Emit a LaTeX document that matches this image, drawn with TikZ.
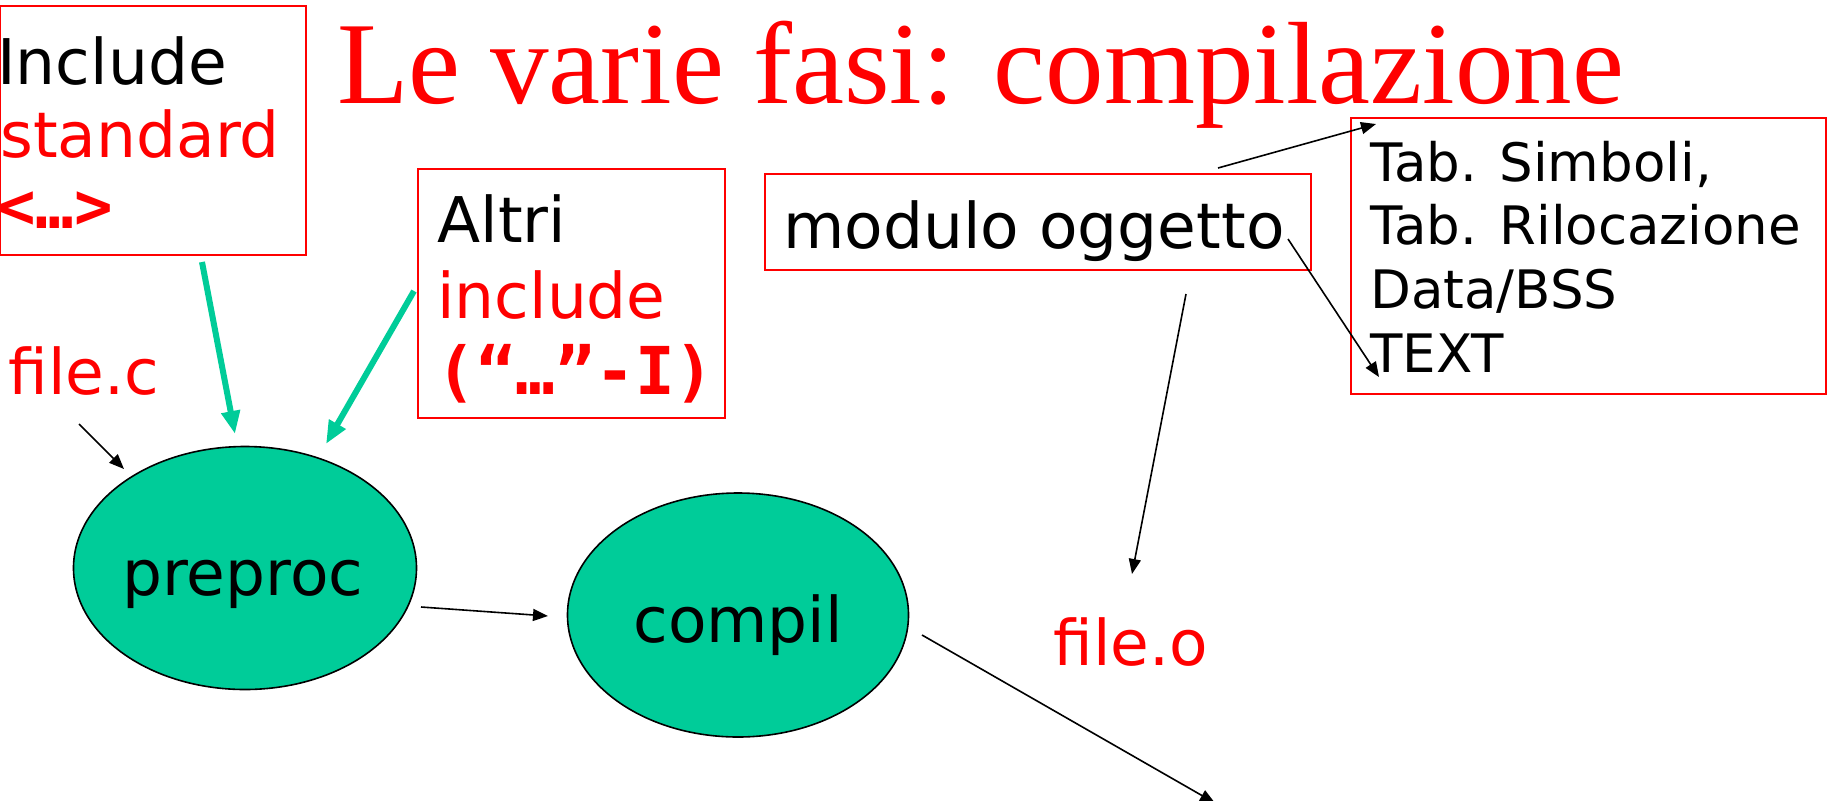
\documentclass[tikz,border=0pt]{standalone}
\usepackage{fontspec}
\setmainfont{DejaVu Sans}
\newfontfamily\titlefont{Liberation Serif}
\newfontfamily\codefont{DejaVu Sans Mono}
\usetikzlibrary{arrows.meta,shapes.geometric}
\definecolor{procgreen}{RGB}{0,204,153}

\begin{document}
\begin{tikzpicture}[x=0.5pt,y=-0.5pt,
  txt/.style={anchor=base west, inner sep=0pt, font=\fontsize{31.5pt}{37pt}\selectfont},
  smalltxt/.style={anchor=base west, inner sep=0pt, font=\fontsize{26.5pt}{31pt}\selectfont},
  codetxt/.style={anchor=base west, inner sep=0pt, text=red, font=\codefont\bfseries\fontsize{33pt}{37pt}\selectfont},
  redbox/.style={draw=red, line width=1pt, anchor=north west, inner sep=0pt},
  phase/.style={ellipse, draw=black, line width=0.8pt, fill=procgreen, inner sep=0pt},
  flow/.style={draw=black, line width=0.8pt, -{Triangle[length=7.5pt,width=6pt]}},
  incflow/.style={draw=procgreen, line width=3pt, -{Triangle[length=11.5pt,width=9pt]}}
]
\useasboundingbox (0,0) rectangle (1828,800);

% title
\node[anchor=base west, inner sep=0pt, text=red,
      font=\titlefont\fontsize{58.5pt}{60pt}\selectfont] (title) at (337,103) {Le varie fasi: compilazione};

% standard includes
\node[redbox, minimum width=153pt, minimum height=124.5pt] (stdbox) at (-1,5) {};
\node[txt] (stdA) at (-3,84) {Include};
\node[txt, text=red] (stdB) at (0,157) {standard};
\node[codetxt, font=\codefont\bfseries\fontsize{32pt}{37pt}\selectfont] (stdC) at (-3,228) {<…>};

% other includes
\node[redbox, minimum width=153.5pt, minimum height=124.5pt] (othbox) at (417,168) {};
\node[txt] (othA) at (437,242) {Altri};
\node[txt, text=red] (othB) at (437,318) {include};
\node[codetxt] (othC) at (436,394) {(“…”-I)};

% object module
\node[redbox, minimum width=273pt, minimum height=48pt] (objbox) at (764,173) {};
\node[txt] (objtxt) at (783,248) {modulo oggetto};

% object module contents
\node[redbox, minimum width=237.5pt, minimum height=138pt] (tabbox) at (1350,117) {};
\node[smalltxt] (tabA) at (1370,181) {Tab. Simboli,};
\node[smalltxt] (tabB) at (1370,244) {Tab. Rilocazione};
\node[smalltxt] (tabC) at (1370,308) {Data/BSS};
\node[smalltxt] (tabD) at (1370,372) {TEXT};

% files
\node[txt, text=red] (filec) at (8,394) {file.c};
\node[txt, text=red] (fileo) at (1053,665) {file.o};

% phases
\node[phase, minimum width=171.5pt, minimum height=121.5pt] (pre) at (245,568) {};
\node[txt] (pretxt) at (122,595) {preproc};
\node[phase, minimum width=170.5pt, minimum height=122pt] (comp) at (738,615) {};
\node[txt] (comptxt) at (633,642) {compil};

% connector end points
\coordinate (cS) at (79,424);   \coordinate (cE) at (124,469);
\coordinate (g1S) at (202,262); \coordinate (g1E) at (235,434);
\coordinate (g2S) at (414,291); \coordinate (g2E) at (326,444);
\coordinate (pS) at (421,607);  \coordinate (pE) at (548,616);
\coordinate (oS) at (1186,294); \coordinate (oE) at (1132,574);
\coordinate (kS) at (922,635);  \coordinate (kE) at (1215,803);
\coordinate (tS) at (1218,168); \coordinate (tE) at (1376,124);
\coordinate (xS) at (1288,239); \coordinate (xE) at (1379,377);

\draw[flow] (cS) -- (cE);
\draw[incflow] (g1S) -- (g1E);
\draw[incflow] (g2S) -- (g2E);
\draw[flow] (pS) -- (pE);
\draw[flow] (oS) -- (oE);
\draw[flow] (kS) -- (kE);
\draw[flow] (tS) -- (tE);
\draw[flow] (xS) -- (xE);
\end{tikzpicture}
\end{document}
